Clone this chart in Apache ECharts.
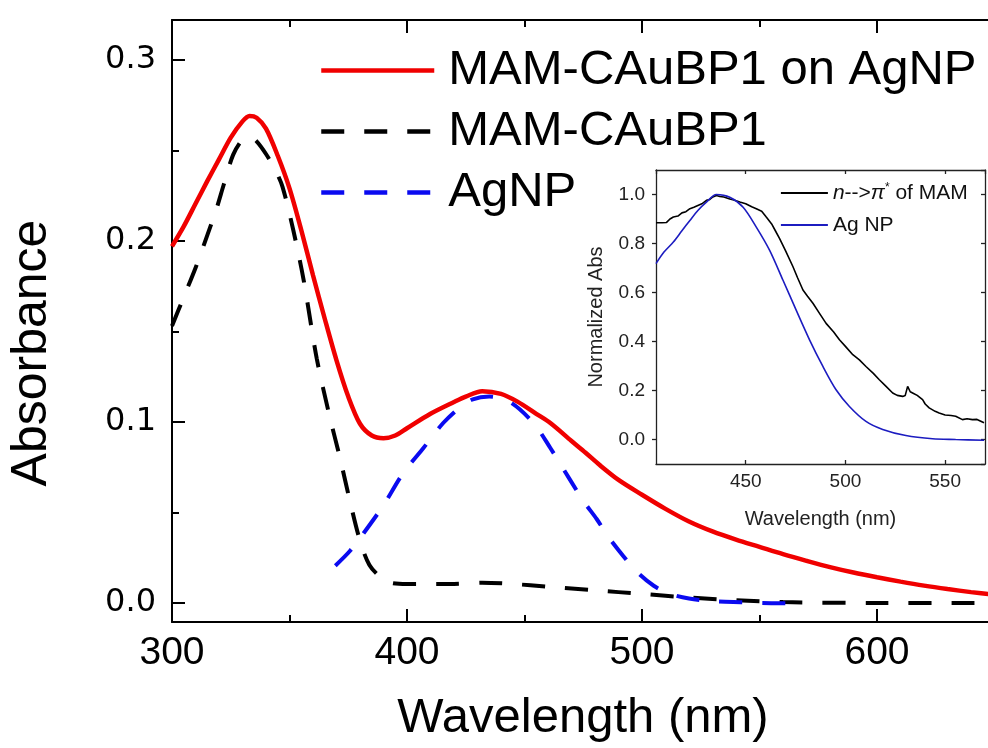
<!DOCTYPE html>
<html><head><meta charset="utf-8">
<script src="https://cdn.jsdelivr.net/npm/echarts@6/dist/echarts.min.js"></script>
<style>html,body{margin:0;padding:0;background:#fff}#c{width:988px;height:748px}</style>
</head><body><div id="c"></div>
<script>
// ---- Main chart data ----
const redWl  = [300,305,310,315,320,325,330,333,336,340,345,350,355,360,365,370,375,380,385,390,395,400,410,420,425,432,440,447,455,461,470,476,482,490,500,510,520,530,540,550,560,570,580,590,600,610,620,630,640,650];
const redAbs = [0.197,0.208,0.2205,0.233,0.245,0.257,0.266,0.269,0.268,0.262,0.247,0.229,0.206,0.181,0.157,0.134,0.114,0.099,0.0925,0.091,0.0925,0.0965,0.1045,0.111,0.114,0.117,0.1155,0.1112,0.1045,0.0994,0.0895,0.083,0.0762,0.068,0.0598,0.052,0.045,0.0395,0.035,0.031,0.027,0.0233,0.0198,0.0168,0.0142,0.0118,0.0096,0.0077,0.006,0.0045];

const blkWl  = [300,305,310,315,319,322,326,330,333,336,340,344,347,351.6,356,361.6,367,371.5,375.7,380,384,389,393,400,420,432,445,460,480,500,520,540,560,600,650];
const blkAbs = [0.153,0.169,0.185,0.203,0.218,0.231,0.2475,0.256,0.2575,0.255,0.248,0.239,0.230,0.206,0.1785,0.135,0.1035,0.080,0.0564,0.0344,0.021,0.014,0.0112,0.0105,0.0105,0.0112,0.0105,0.009,0.007,0.005,0.003,0.0015,0.0005,0.0,0.0];

const bluWl  = [369.5,375.7,381.4,390,398.4,407,415.4,422.5,428,435,443.8,453.8,461,469.4,475,480.7,486,492,498,505,512,520,530,542,555,568];
const bluAbs = [0.0206,0.0287,0.0383,0.054,0.0718,0.0856,0.0994,0.108,0.1125,0.114,0.111,0.0994,0.0856,0.068,0.0564,0.0464,0.036,0.026,0.017,0.0095,0.005,0.0025,0.001,0.0004,-0.0001,-0.0003];

// ---- Inset data ----
const insBlkWl = [405,408,410.3,412,413.7,416,418,420,422,424,426,428,430.3,432,433.5,435.3,437,439,442,444,447,450,453,455.3,458,460.3,463,465,467,470,473.7,476,478.7,481,483.7,487,490.3,494,497,500,503.7,507,510.3,514,517,520,523.7,526,528.7,530,531.2,532.5,533.7,536,538.7,540,542,545,547,550,553,555.3,558.7,561,563.7,566,569.5];
const insBlkAbs = [0.885,0.885,0.886,0.9,0.908,0.912,0.925,0.93,0.942,0.948,0.955,0.962,0.976,0.98,0.99,0.996,0.992,0.99,0.982,0.978,0.969,0.962,0.95,0.942,0.932,0.908,0.88,0.85,0.82,0.77,0.705,0.66,0.61,0.585,0.556,0.515,0.474,0.44,0.407,0.38,0.346,0.325,0.298,0.27,0.244,0.22,0.19,0.18,0.176,0.18,0.217,0.195,0.19,0.18,0.163,0.145,0.129,0.115,0.108,0.1,0.098,0.095,0.081,0.085,0.081,0.082,0.068];

const insBluWl  = [405,409,413.7,418,422,426,430.3,435.3,442,448.7,455.3,462,468.7,475.3,482,488.7,495.3,502,510.3,518.7,530.3,543.7,555.3,569.5];
const insBluAbs = [0.718,0.765,0.806,0.852,0.894,0.935,0.969,1.0,0.989,0.948,0.867,0.772,0.65,0.528,0.407,0.298,0.203,0.135,0.074,0.041,0.016,0.003,0.0,-0.003];

const pair = (xs, ys) => xs.map((x, i) => [x, ys[i]]);

const chart = echarts.init(document.getElementById('c'), null, {renderer: 'canvas'});
const AX = {color: '#000', width: 2};
const IAX = {color: '#222', width: 1.3};
const FONT = "'Liberation Sans', Arial, sans-serif";
const option = {
  animation: false,
  backgroundColor: '#fff',
  grid: [
    {left: 172, top: 20, width: 940, height: 602, outerBoundsMode: 'none', containLabel: false},
    {left: 656, top: 170, width: 329, height: 294, outerBoundsMode: 'none', containLabel: false}
  ],
  xAxis: [
    {gridIndex: 0, type: 'value', min: 300, max: 700, interval: 100, position: 'bottom',
     axisLine: {onZero: false, lineStyle: AX},
     axisTick: {inside: true, length: 13, lineStyle: AX},
     minorTick: {show: true, splitNumber: 2, length: 7, lineStyle: AX},
     splitLine: {show: false},
     axisLabel: {margin: 12, color: '#000', fontSize: 39, fontFamily: "'Liberation Sans Narrow', 'Liberation Sans', Arial, sans-serif"},
     name: 'Wavelength (nm)', nameLocation: 'middle', nameGap: 72,
     nameTextStyle: {color: '#000', fontSize: 49, fontFamily: FONT, padding: [0, 118, 0, 0]}},
    {gridIndex: 0, type: 'value', min: 300, max: 700, interval: 100, position: 'top',
     axisLine: {onZero: false, lineStyle: AX},
     axisTick: {inside: true, length: 13, lineStyle: AX},
     minorTick: {show: true, splitNumber: 2, length: 7, lineStyle: AX},
     splitLine: {show: false}, axisLabel: {show: false}},
    {gridIndex: 1, type: 'value', min: 405, max: 570, splitNumber: 3, position: 'bottom',
     axisLine: {onZero: false, lineStyle: IAX},
     axisTick: {inside: true, length: 4, lineStyle: IAX},
     splitLine: {show: false},
     axisLabel: {margin: 8, color: '#222', fontSize: 19, showMinLabel: false, showMaxLabel: false, fontFamily: FONT},
     name: 'Wavelength (nm)', nameLocation: 'middle', nameGap: 45,
     nameTextStyle: {color: '#222', fontSize: 20, fontFamily: FONT}},
    {gridIndex: 1, type: 'value', min: 405, max: 570, splitNumber: 3, position: 'top',
     axisLine: {onZero: false, lineStyle: IAX},
     axisTick: {inside: true, length: 4, lineStyle: IAX},
     splitLine: {show: false}, axisLabel: {show: false}}
  ],
  yAxis: [
    {gridIndex: 0, type: 'value', min: -0.0105, max: 0.322, splitNumber: 3, position: 'left',
     axisLine: {onZero: false, lineStyle: AX},
     axisTick: {inside: true, length: 13, lineStyle: AX},
     minorTick: {show: true, splitNumber: 2, length: 7, lineStyle: AX},
     splitLine: {show: false},
     axisLabel: {margin: 16, color: '#000', fontSize: 32, fontFamily: "'DejaVu Sans', sans-serif",
                 showMinLabel: false, showMaxLabel: false, formatter: v => v.toFixed(1)}},
    {gridIndex: 1, type: 'value', min: -0.1, max: 1.1, splitNumber: 6, position: 'left',
     axisLine: {onZero: false, lineStyle: IAX},
     axisTick: {inside: false, length: 4, lineStyle: IAX},
     splitLine: {show: false},
     axisLabel: {margin: 11, color: '#222', fontSize: 19, showMinLabel: false, showMaxLabel: false,
                 fontFamily: FONT, formatter: v => v.toFixed(1)},
     name: 'Normalized Abs', nameLocation: 'middle', nameGap: 50,
     nameTextStyle: {color: '#222', fontSize: 20, fontFamily: FONT}},
    {gridIndex: 1, type: 'value', min: -0.1, max: 1.1, splitNumber: 6, position: 'right',
     axisLine: {onZero: false, lineStyle: IAX},
     axisTick: {inside: true, length: 4, lineStyle: IAX},
     splitLine: {show: false}, axisLabel: {show: false}}
  ],
  legend: [
    {data: ['MAM-CAuBP1 on AgNP', 'MAM-CAuBP1', 'AgNP'], orient: 'vertical', left: 319, top: 40,
     itemWidth: 113, itemHeight: 20, itemGap: 0, padding: 0, selectedMode: false,
     itemStyle: {opacity: 0}, lineStyle: {width: 4.5},
     textStyle: {fontSize: 49, lineHeight: 61, color: '#000', fontFamily: FONT, padding: [0, 0, 0, 9]}},
    {data: ['n-->π* of MAM', 'Ag NP'], orient: 'vertical', left: 780, top: 177,
     itemWidth: 47, itemHeight: 10, itemGap: 0, padding: 0, selectedMode: false,
     itemStyle: {opacity: 0}, lineStyle: {width: 1.8},
     formatter: n => n === 'Ag NP' ? n : '{i|n}-->{i|π}{s|*} of MAM',
     textStyle: {fontSize: 21, lineHeight: 32, color: '#111', fontFamily: FONT,
       rich: {i: {fontStyle: 'italic', fontSize: 21, fontFamily: FONT},
              s: {fontSize: 12, padding: [0, 0, 10, 0], fontFamily: FONT}}}}
  ],
  graphic: [
    {type: 'text', x: 32, y: 353, rotation: Math.PI / 2,
     style: {text: 'Absorbance', fontSize: 50, fontFamily: FONT, fill: '#000',
             textAlign: 'center', textVerticalAlign: 'middle'}}
  ],
  series: [
    {name: 'MAM-CAuBP1', type: 'line', xAxisIndex: 0, yAxisIndex: 0, data: pair(blkWl, blkAbs),
     showSymbol: false, symbol: 'none', smooth: 0.3, z: 2,
     lineStyle: {color: '#000', width: 4, type: [23, 20], cap: 'butt'}, itemStyle: {color: '#000'}},
    {name: 'AgNP', type: 'line', xAxisIndex: 0, yAxisIndex: 0, data: pair(bluWl, bluAbs),
     showSymbol: false, symbol: 'none', smooth: 0.3, z: 2,
     lineStyle: {color: '#0a0af0', width: 4, type: [23, 20], cap: 'butt'}, itemStyle: {color: '#0a0af0'}},
    {name: 'MAM-CAuBP1 on AgNP', type: 'line', xAxisIndex: 0, yAxisIndex: 0, data: pair(redWl, redAbs),
     showSymbol: false, symbol: 'none', smooth: 0.3, z: 3,
     lineStyle: {color: '#f00000', width: 4.5}, itemStyle: {color: '#f00000'}},
    {name: 'n-->π* of MAM', type: 'line', xAxisIndex: 2, yAxisIndex: 1, data: pair(insBlkWl, insBlkAbs),
     showSymbol: false, symbol: 'none', z: 4,
     lineStyle: {color: '#000', width: 1.6}, itemStyle: {color: '#000'}},
    {name: 'Ag NP', type: 'line', xAxisIndex: 2, yAxisIndex: 1, data: pair(insBluWl, insBluAbs),
     showSymbol: false, symbol: 'none', smooth: 0.3, z: 4,
     lineStyle: {color: '#1c1cc0', width: 1.6}, itemStyle: {color: '#1c1cc0'}}
  ]
};
chart.setOption(option);
</script></body></html>
